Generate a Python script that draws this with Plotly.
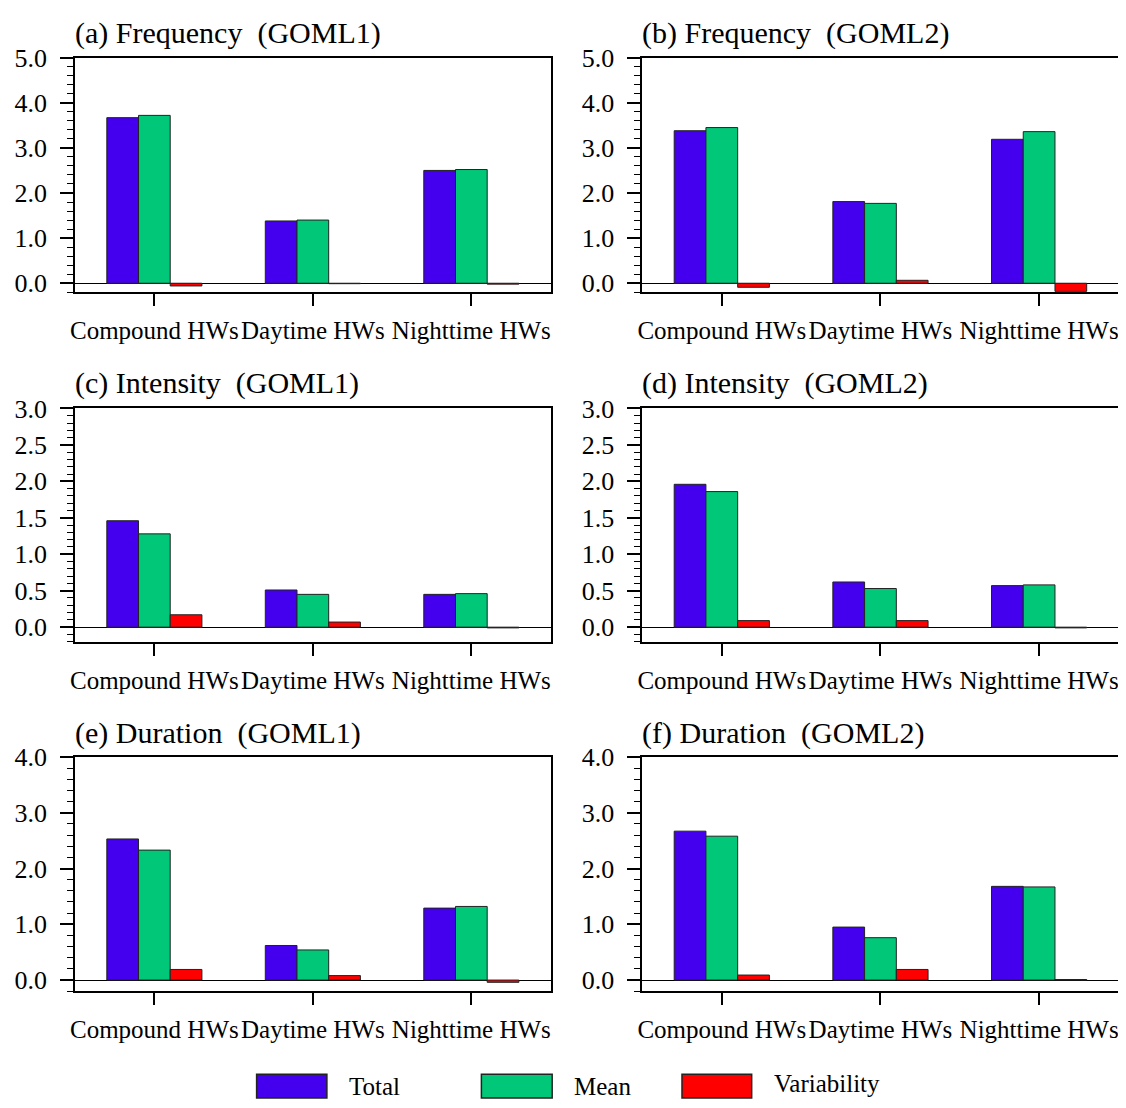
import plotly.graph_objects as go

categories = ["Compound HWs", "Daytime HWs", "Nighttime HWs"]
series_names = ["Total", "Mean", "Variability"]
series_colors = ["#4400EE", "#00C878", "#FF0000"]

freq_goml1_total = [3.67, 1.38, 2.50]
freq_goml1_mean = [3.72, 1.40, 2.52]
freq_goml1_var = [-0.06, -0.01, -0.02]

freq_goml2_total = [3.38, 1.81, 3.19]
freq_goml2_mean = [3.45, 1.77, 3.36]
freq_goml2_var = [-0.09, 0.065, -0.18]

int_goml1_total = [1.46, 0.51, 0.45]
int_goml1_mean = [1.28, 0.45, 0.46]
int_goml1_var = [0.17, 0.07, -0.01]

int_goml2_total = [1.96, 0.62, 0.57]
int_goml2_mean = [1.86, 0.53, 0.58]
int_goml2_var = [0.09, 0.09, -0.01]

dur_goml1_total = [2.53, 0.62, 1.29]
dur_goml1_mean = [2.33, 0.54, 1.32]
dur_goml1_var = [0.19, 0.08, -0.04]

dur_goml2_total = [2.67, 0.95, 1.68]
dur_goml2_mean = [2.58, 0.76, 1.67]
dur_goml2_var = [0.09, 0.19, 0.01]

panel_titles = [
    "(a) Frequency\u00a0\u00a0(GOML1)", "(b) Frequency\u00a0\u00a0(GOML2)",
    "(c) Intensity\u00a0\u00a0(GOML1)", "(d) Intensity\u00a0\u00a0(GOML2)",
    "(e) Duration\u00a0\u00a0(GOML1)", "(f) Duration\u00a0\u00a0(GOML2)",
]
panel_data = [
    (freq_goml1_total, freq_goml1_mean, freq_goml1_var),
    (freq_goml2_total, freq_goml2_mean, freq_goml2_var),
    (int_goml1_total, int_goml1_mean, int_goml1_var),
    (int_goml2_total, int_goml2_mean, int_goml2_var),
    (dur_goml1_total, dur_goml1_mean, dur_goml1_var),
    (dur_goml2_total, dur_goml2_mean, dur_goml2_var),
]
y_ranges = [[-0.2, 5.0], [-0.2, 5.0], [-0.2, 3.0], [-0.2, 3.0], [-0.2, 4.0], [-0.2, 4.0]]
y_dticks = [1.0, 1.0, 0.5, 0.5, 1.0, 1.0]
y_minor = [0.2, 0.2, 0.1, 0.1, 0.2, 0.2]

# the page body has an 8px default margin: the figure is sized/offset to fit the window
OFF = 8
W, H = 1126 - OFF, 1108 - 2 * OFF
FONT = "Liberation Serif, Times New Roman, serif"


def px(x):
    return (x - OFF) / W


def py(y):
    return 1 - (y - OFF) / H


# pixel layout of the panels (window coordinates)
col_x = [(70.4, 548.0), (640.3, 1118.4)]
row_y = [(44.3, 283.3), (401.7, 639.3), (756.7, 995.3)]
title_y = [19, 376, 732]

fig = go.Figure()
x_pos = [0.5, 1.5, 2.5]

annotations = []
for i in range(6):
    r, c = divmod(i, 2)
    ax = "" if i == 0 else str(i + 1)
    for name, color, vals in zip(series_names, series_colors, panel_data[i]):
        fig.add_trace(go.Bar(
            x=x_pos, y=vals, name=name, marker_color=color,
            marker_line=dict(color="#222222", width=1),
            showlegend=False, xaxis="x" + ax, yaxis="y" + ax,
        ))
    x0, x1 = col_x[c]
    yt, yb = row_y[r]
    fig.layout["xaxis" + ax] = dict(
        domain=[px(x0), px(x1)], anchor="y" + ax, range=[0, 3],
        tickmode="array", tickvals=x_pos, ticktext=categories,
        ticks="outside", ticklen=12, tickwidth=2, tickcolor="black",
        showline=True, linewidth=2, linecolor="black", mirror=True,
        showgrid=False, zeroline=False, fixedrange=True,
        tickfont=dict(family=FONT, size=25, color="black"),
        ticklabelstandoff=3,
    )
    fig.layout["yaxis" + ax] = dict(
        domain=[py(yb), py(yt)], anchor="x" + ax,
        range=y_ranges[i], tick0=0, dtick=y_dticks[i], tickformat=".1f",
        ticks="outside", ticklen=13, tickwidth=1.5, tickcolor="black",
        minor=dict(ticks="outside", ticklen=6, dtick=y_minor[i], tick0=0,
                   tickcolor="black", tickwidth=1, showgrid=False),
        showline=True, linewidth=2, linecolor="black", mirror=True,
        showgrid=False, zeroline=True, zerolinecolor="black", zerolinewidth=1,
        tickfont=dict(family=FONT, size=26, color="black"),
        ticklabelstandoff=8,
    )
    annotations.append(dict(
        text=panel_titles[i], x=px(x0 - 2), y=py(title_y[r]),
        xref="paper", yref="paper", xanchor="left", yanchor="middle",
        showarrow=False, font=dict(family=FONT, size=30, color="black"),
    ))

# legend drawn at bottom
shapes = []
legend_boxes = [(252.7, 323.3), (478.5, 549.6), (680.0, 750.0)]
legend_text_x = [343, 570, 770]
legend_text_y = [1092, 1092, 1089]
for (bx0, bx1), tx, ty, name, color in zip(legend_boxes, legend_text_x, legend_text_y,
                                           series_names, series_colors):
    shapes.append(dict(type="rect", xref="paper", yref="paper",
                       x0=px(bx0), x1=px(bx1), y0=py(1104), y1=py(1080),
                       fillcolor=color, line=dict(color="#222222", width=1.5)))
    annotations.append(dict(text=name, x=px(tx), y=py(ty), xref="paper", yref="paper",
                            xanchor="left", yanchor="middle", showarrow=False,
                            font=dict(family=FONT, size=25, color="black")))

fig.update_layout(
    width=W, height=H, margin=dict(l=0, r=0, t=0, b=0),
    paper_bgcolor="white", plot_bgcolor="white",
    barmode="group", bargap=0.4, bargroupgap=0,
    annotations=annotations, shapes=shapes, showlegend=False,
    font=dict(family=FONT, color="black"),
)

fig.write_html("out.html")
